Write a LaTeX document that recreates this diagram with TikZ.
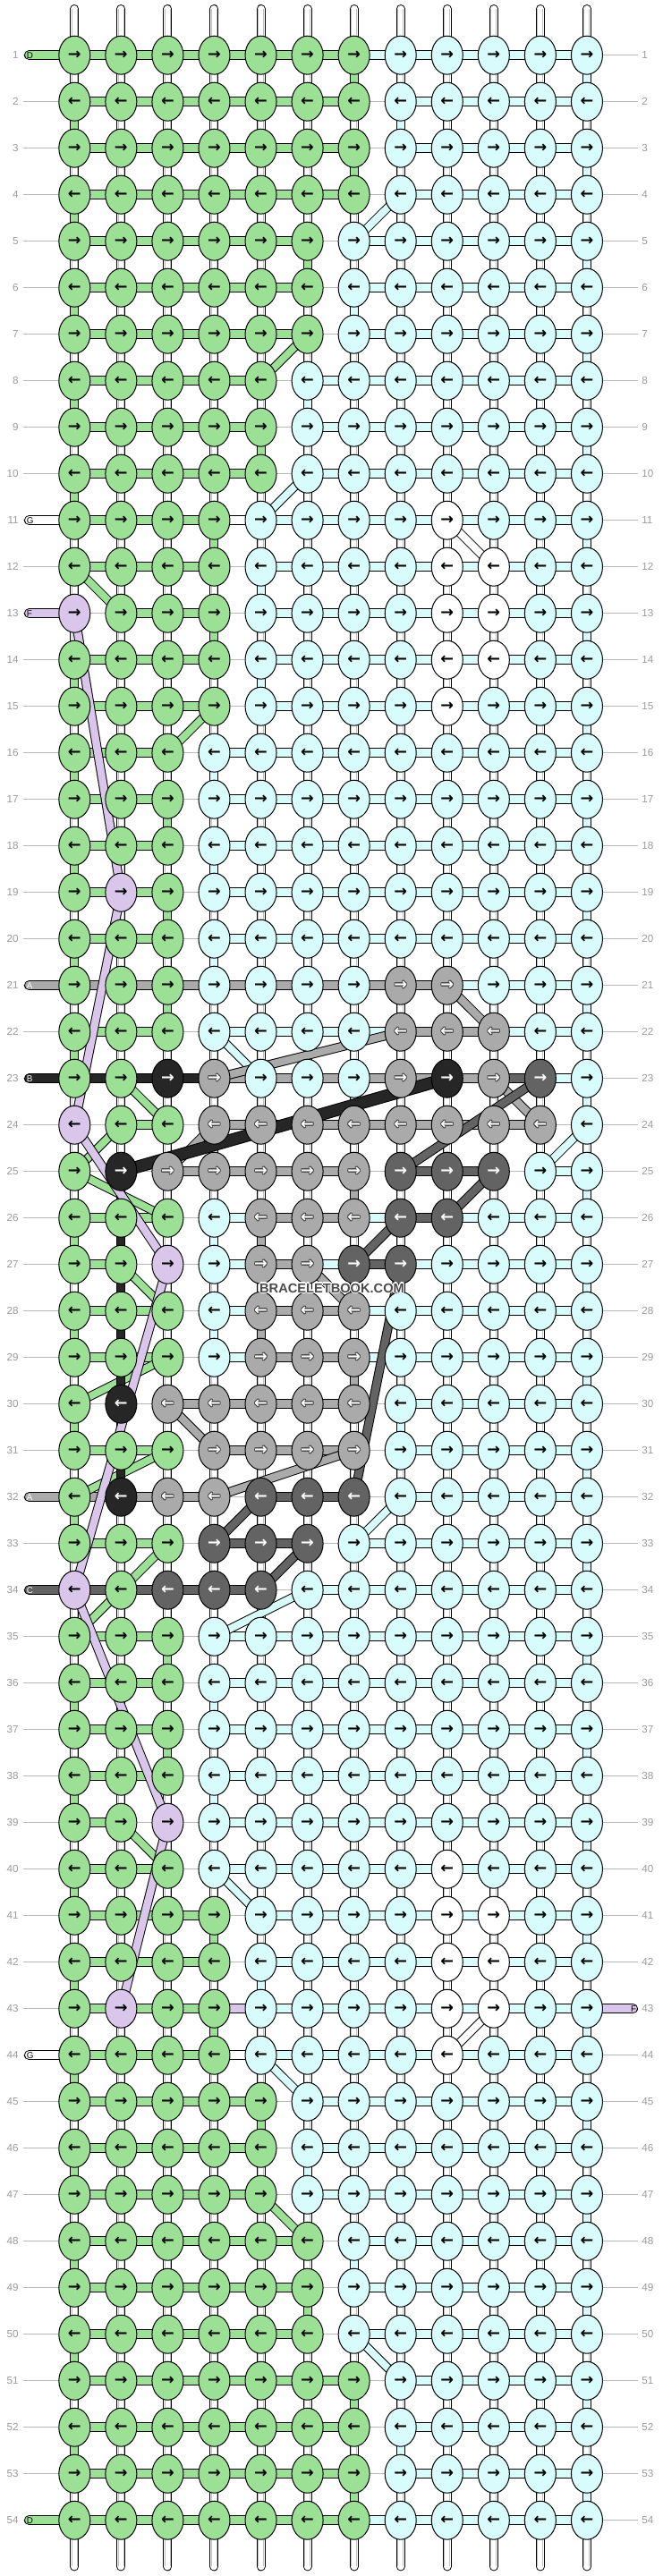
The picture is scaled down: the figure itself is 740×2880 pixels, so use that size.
\documentclass[tikz,border=0pt]{standalone}
\usepackage{fontspec}
\setmainfont{Liberation Sans}
\newfontfamily\arrfont{DejaVu Sans}
\usetikzlibrary{shapes.geometric}
\definecolor{kG}{HTML}{9CE096}
\definecolor{kC}{HTML}{D8FCFC}
\definecolor{kL}{HTML}{D9C6EA}
\definecolor{kA}{HTML}{AAAAAA}
\definecolor{kD}{HTML}{636363}
\definecolor{kB}{HTML}{262626}
\definecolor{kW}{HTML}{FFFFFF}
\colorlet{aG}{black}\colorlet{aC}{black}\colorlet{aL}{black}\colorlet{aW}{black}
\colorlet{aA}{white}\colorlet{aD}{white}\colorlet{aB}{white}
\definecolor{rowgray}{HTML}{BBBBBB}
\definecolor{numgray}{HTML}{9A9A9A}
\definecolor{wmgray}{HTML}{4A4A4A}
\pgfdeclarelayer{l0}\pgfdeclarelayer{l1}\pgfdeclarelayer{l2}\pgfdeclarelayer{l3}\pgfdeclarelayer{l4}
\pgfsetlayers{l0,l1,l2,l3,l4,main}
\tikzset{
  knot/.style={ellipse, draw=black, line width=0.25mm, minimum width=8.75mm, minimum height=10.75mm, inner sep=0pt, font=\arrfont\bfseries\fontsize{12.5}{12.5}\selectfont},
  arrtxt/.style={inner sep=0pt, font=\arrfont\bfseries\fontsize{12.5}{12.5}\selectfont},
  seg/.style={draw=black, double=#1, double distance=2.25mm, line width=0.25mm},
  vseg/.style={draw=black, double=#1, double distance=2mm, line width=0.25mm},
  thr/.style={draw=black, double=#1, double distance=2.1mm, line width=0.25mm},
  thick thr/.style={draw=black, double=#1, double distance=3mm, line width=0.25mm},
  warpline/.style={draw=black, double=white, double distance=2mm, line width=0.25mm},
  innerline/.style={draw=gray!50, line width=0.25mm},
  rowline/.style={draw=rowgray, line width=0.25mm},
  num/.style={text=numgray, font=\fontsize{8.3}{8.3}\selectfont, inner sep=0pt},
  tabtxt/.style={font=\fontsize{7}{7}\selectfont, inner sep=0pt},
  wmtxt/.style={font=\bfseries\fontsize{10.4}{10.4}\selectfont, inner sep=0pt}
}
\begin{document}
\begin{tikzpicture}[x=0.25mm,y=-0.25mm]
\useasboundingbox (0,0) rectangle (740,2880);
% ---------- knots ----------
\foreach \row [count=\r] in {
{G,G,G,G,G,G,G,C,C,C,C,C},{G,G,G,G,G,G,G,C,C,C,C,C},{G,G,G,G,G,G,G,C,C,C,C,C},{G,G,G,G,G,G,G,C,C,C,C,C},
{G,G,G,G,G,G,C,C,C,C,C,C},{G,G,G,G,G,G,C,C,C,C,C,C},{G,G,G,G,G,G,C,C,C,C,C,C},
{G,G,G,G,G,C,C,C,C,C,C,C},{G,G,G,G,G,C,C,C,C,C,C,C},{G,G,G,G,G,C,C,C,C,C,C,C},
{G,G,G,G,C,C,C,C,W,C,C,C},{G,G,G,G,C,C,C,C,W,W,C,C},{L,G,G,G,C,C,C,C,W,W,C,C},{G,G,G,G,C,C,C,C,W,W,C,C},{G,G,G,G,C,C,C,C,W,C,C,C},
{G,G,G,C,C,C,C,C,C,C,C,C},{G,G,G,C,C,C,C,C,C,C,C,C},{G,G,G,C,C,C,C,C,C,C,C,C},{G,L,G,C,C,C,C,C,C,C,C,C},{G,G,G,C,C,C,C,C,C,C,C,C},
{G,G,G,C,C,C,C,A,A,C,C,C},{G,G,G,C,C,C,C,A,A,A,C,C},{G,G,B,A,C,C,C,A,B,A,D,C},{L,G,G,A,A,A,A,A,A,A,A,C},
{G,B,A,A,A,A,A,D,D,D,C,C},{G,G,G,C,A,A,A,D,D,C,C,C},{G,G,L,C,A,A,D,D,C,C,C,C},{G,G,G,C,A,A,A,C,C,C,C,C},
{G,G,G,C,A,A,A,C,C,C,C,C},{G,B,A,A,A,A,A,C,C,C,C,C},{G,G,G,A,A,A,A,C,C,C,C,C},{G,B,A,A,D,D,D,C,C,C,C,C},
{G,G,G,D,D,D,C,C,C,C,C,C},{L,G,D,D,D,C,C,C,C,C,C,C},
{G,G,G,C,C,C,C,C,C,C,C,C},{G,G,G,C,C,C,C,C,C,C,C,C},{G,G,G,C,C,C,C,C,C,C,C,C},{G,G,G,C,C,C,C,C,C,C,C,C},
{G,G,L,C,C,C,C,C,C,C,C,C},{G,G,G,C,C,C,C,C,W,C,C,C},
{G,G,G,G,C,C,C,C,W,W,C,C},{G,G,G,G,C,C,C,C,W,W,C,C},{G,L,G,G,C,C,C,C,W,W,C,C},{G,G,G,G,C,C,C,C,W,C,C,C},
{G,G,G,G,G,C,C,C,C,C,C,C},{G,G,G,G,G,C,C,C,C,C,C,C},{G,G,G,G,G,C,C,C,C,C,C,C},
{G,G,G,G,G,G,C,C,C,C,C,C},{G,G,G,G,G,G,C,C,C,C,C,C},{G,G,G,G,G,G,C,C,C,C,C,C},
{G,G,G,G,G,G,G,C,C,C,C,C},{G,G,G,G,G,G,G,C,C,C,C,C},{G,G,G,G,G,G,G,C,C,C,C,C},{G,G,G,G,G,G,G,C,C,C,C,C}} {
  \foreach \c [count=\j] in \row {
    \node[knot, fill=k\c, text=a\c] (n-\j-\r) at ({83.3+52.06*(\j-1)},{61.7+52*(\r-1)}) {\ifodd\r\relax →\else ←\fi};
    \if A\c
      \foreach \dx/\dy in {0.8/0,-0.8/0,0/0.8,0/-0.8,0.6/0.6,-0.6/0.6,0.6/-0.6,-0.6/-0.6} {
        \node[arrtxt, text=black!75] at ([shift={(\dx,\dy)}]n-\j-\r.center) {\ifodd\r\relax →\else ←\fi};
      }
      \node[arrtxt, text=white] at (n-\j-\r.center) {\ifodd\r\relax →\else ←\fi};
    \fi
  }
}
% ---------- row lines, numbers ----------
\foreach \r in {1,...,54} {
  \coordinate (ll-\r) at (26,{61.7+52*(\r-1)});
  \coordinate (rr-\r) at (713,{61.7+52*(\r-1)});
  \begin{pgfonlayer}{l0}
    \draw[rowline] (ll-\r) -- (n-1-\r.center) -- (n-12-\r.center) -- (rr-\r);
  \end{pgfonlayer}
  \node[num, anchor=east] at (21,{61.7+52*(\r-1)}) {\r};
  \node[num, anchor=west] at (717,{61.7+52*(\r-1)}) {\r};
}
% ---------- warp strings ----------
\begin{pgfonlayer}{l1}
\foreach \j in {1,...,12} {
  \coordinate (tp-\j) at ({83.3+52.06*(\j-1)},10);
  \coordinate (bt-\j) at ({83.3+52.06*(\j-1)},2869.4);
  \draw[warpline, line cap=round] (tp-\j) -- (n-\j-1.center);
  \draw[warpline, line cap=round] (n-\j-54.center) -- (bt-\j);
  \draw[innerline] ([xshift=-0.75mm]tp-\j) -- ([xshift=-0.75mm]n-\j-1.center);
  \draw[innerline] ([xshift=0.75mm]tp-\j) -- ([xshift=0.75mm]n-\j-1.center);
  \draw[innerline] ([xshift=-0.75mm]n-\j-54.center) -- ([xshift=-0.75mm]bt-\j);
  \draw[innerline] ([xshift=0.75mm]n-\j-54.center) -- ([xshift=0.75mm]bt-\j);
}
\foreach \r [evaluate=\r as \rn using int(\r+1)] in {1,...,53} {
  \foreach \j in {1,...,12} {
    \draw[warpline] (n-\j-\r.center) -- (n-\j-\rn.center);
    \draw[innerline] ([xshift=-0.75mm]n-\j-\r.center) -- ([xshift=-0.75mm]n-\j-\rn.center);
    \draw[innerline] ([xshift=0.75mm]n-\j-\r.center) -- ([xshift=0.75mm]n-\j-\rn.center);
  }
}
\end{pgfonlayer}
% ---------- horizontal segments ----------
\begin{pgfonlayer}{l2}
\foreach \hrow [count=\r] in {
{G,G,G,G,G,G,C,C,C,C,C},{G,G,G,G,G,G,N,C,C,C,C},{G,G,G,G,G,G,N,C,C,C,C},{G,G,G,G,G,G,N,C,C,C,C},
{G,G,G,G,G,N,C,C,C,C,C},{G,G,G,G,G,N,C,C,C,C,C},{G,G,G,G,G,N,C,C,C,C,C},
{G,G,G,G,N,C,C,C,C,C,C},{G,G,G,G,N,C,C,C,C,C,C},{G,G,G,G,N,C,C,C,C,C,C},
{G,G,G,W,C,C,C,C,C,C,C},{G,G,G,N,C,C,C,C,C,C,C},{N,G,G,N,C,C,C,C,C,C,C},{G,G,G,N,C,C,C,C,C,C,C},{G,G,G,N,C,C,C,C,C,C,C},
{G,G,N,C,C,C,C,C,C,C,C},{G,G,N,C,C,C,C,C,C,C,C},{G,G,N,C,C,C,C,C,C,C,C},{G,G,N,C,C,C,C,C,C,C,C},{G,G,N,C,C,C,C,C,C,C,C},
{A,A,A,A,A,A,A,A,C,C,C},{G,G,N,C,C,C,C,A,A,C,C},{B,B,B,A,A,A,A,A,A,D,C},{N,G,N,A,A,A,A,A,A,A,N},
{N,N,A,A,A,A,N,D,D,N,C},{G,G,N,C,A,A,C,D,C,C,C},{G,N,N,C,A,C,D,C,C,C,C},{G,G,N,C,A,A,C,C,C,C,C},
{G,G,N,C,A,A,C,C,C,C,C},{N,N,A,A,A,A,N,C,C,C,C},{G,G,N,A,A,A,N,C,C,C,C},{A,A,A,N,D,D,N,C,C,C,C},
{G,G,N,D,D,N,C,C,C,C,C},{D,D,D,D,N,C,C,C,C,C,C},
{G,G,N,C,C,C,C,C,C,C,C},{G,G,N,C,C,C,C,C,C,C,C},{G,G,N,C,C,C,C,C,C,C,C},{G,G,N,C,C,C,C,C,C,C,C},
{G,N,N,C,C,C,C,C,C,C,C},{G,G,N,C,C,C,C,C,C,C,C},
{G,G,G,N,C,C,C,C,C,C,C},{G,G,G,N,C,C,C,C,C,C,C},{G,G,G,L,C,C,C,C,C,C,C},{G,G,G,W,C,C,C,C,C,C,C},
{G,G,G,G,N,C,C,C,C,C,C},{G,G,G,G,N,C,C,C,C,C,C},{G,G,G,G,N,C,C,C,C,C,C},
{G,G,G,G,G,N,C,C,C,C,C},{G,G,G,G,G,N,C,C,C,C,C},{G,G,G,G,G,N,C,C,C,C,C},
{G,G,G,G,G,G,N,C,C,C,C},{G,G,G,G,G,G,N,C,C,C,C},{G,G,G,G,G,G,N,C,C,C,C},{G,G,G,G,G,G,C,C,C,C,C}} {
  \foreach \c [count=\j] in \hrow {
    \if N\c\else
      \pgfmathtruncatemacro\jn{\j+1}
      \draw[seg=k\c] (n-\j-\r.center) -- (n-\jn-\r.center);
    \fi
  }
}
% tabs
\foreach \r/\t/\cc/\tc in {1/D/G/black,11/G/W/black,13/F/L/black,21/A/A/white,23/B/B/white,32/A/A/white,34/C/D/white,44/G/W/black,54/D/G/black} {
  \coordinate (tb-\r) at (32.5,{61.7+52*(\r-1)});
  \draw[seg=k\cc, line cap=round] (tb-\r) -- (n-1-\r.center);
  \node[tabtxt, anchor=west, text=\tc] at (29.5,{61.7+52*(\r-1)}) {\t};
}
\coordinate (tbr-43) at (707.5,{61.7+52*42});
\draw[seg=kL, line cap=round] (n-12-43.center) -- (tbr-43);
\node[tabtxt, anchor=east] at (711.5,{61.7+52*42}) {F};
\end{pgfonlayer}
% ---------- colored vertical / diagonal connectors ----------
\begin{pgfonlayer}{l3}
\foreach \r [evaluate=\r as \rn using int(\r+1)] in {2,4,...,52} {
  \ifnum\r=12 \else\ifnum\r=24 \else\ifnum\r=34 \else
    \draw[vseg=kG] (n-1-\r.center) -- (n-1-\rn.center);
  \fi\fi\fi
}
\foreach \r [evaluate=\r as \rn using int(\r+1)] in {1,3,...,53} {
  \draw[vseg=kC] (n-12-\r.center) -- (n-12-\rn.center);
}
\foreach \a/\r/\b/\cc in {
  7/1/7/G,7/3/7/G,6/5/6/G,6/7/5/G,5/9/5/G,4/11/4/G,4/13/4/G,4/15/3/G,3/17/3/G,3/19/3/G,3/21/3/G,
  2/23/3/G,1/25/3/G,2/27/3/G,3/29/1/G,3/31/1/G,3/33/2/G,3/35/3/G,3/37/3/G,2/39/3/G,4/41/4/G,
  4/43/4/G,5/45/5/G,5/47/6/G,6/49/6/G,7/51/7/G,7/53/7/G,1/12/2/G,2/24/1/G,2/34/1/G,
  8/2/8/C,8/4/7/C,7/6/7/C,6/8/6/C,6/10/5/C,5/12/5/C,5/14/5/C,4/16/4/C,4/18/4/C,4/20/4/C,
  4/22/5/C,12/24/11/C,4/26/4/C,4/28/4/C,8/30/8/C,8/32/7/C,6/34/4/C,4/36/4/C,4/38/4/C,
  4/40/5/C,5/42/5/C,5/44/6/C,6/46/6/C,7/48/7/C,7/50/8/C,8/52/8/C,
  9/11/10/W,10/43/9/W,
  2/25/2/B,2/26/2/B,2/27/2/B,2/28/2/B,2/29/2/B,2/30/2/B,2/31/2/B,
  7/25/7/A,5/26/5/A,5/28/5/A,7/29/7/A} {
  \pgfmathtruncatemacro\rn{\r+1}
  \draw[vseg=k\cc] (n-\a-\r.center) -- (n-\b-\rn.center);
}
\end{pgfonlayer}
% ---------- long threads ----------
\begin{pgfonlayer}{l4}
\foreach \a/\r/\b/\s/\cc in {
  9/21/10/22/A,8/22/4/23/A,10/23/11/24/A,4/24/3/25/A,6/27/7/28/A,3/30/4/31/A,7/31/4/32/A,
  11/23/8/25/D,10/25/9/26/D,8/26/7/27/D,8/27/7/32/D,5/32/4/33/D,6/33/5/34/D,
  1/13/2/19/L,2/19/1/24/L,1/24/3/27/L,3/27/1/34/L,1/34/3/39/L,3/39/2/43/L} {
  \draw[thr=k\cc] (n-\a-\r.center) -- (n-\b-\s.center);
}
\draw[thick thr=kB] (n-2-25.center) -- (n-9-23.center);
\end{pgfonlayer}
% ---------- watermark ----------
\coordinate (wmc) at (371,1440);
\foreach \dx/\dy in {1.2/0,-1.2/0,0/1.2,0/-1.2,0.9/0.9,-0.9/0.9,0.9/-0.9,-0.9/-0.9} {
  \node[wmtxt, text=white] at ([shift={(\dx,\dy)}]wmc) {BRACELETBOOK.COM};
}
\node[wmtxt, text=wmgray] (wm) at (wmc) {BRACELETBOOK.COM};
\end{tikzpicture}
\end{document}
